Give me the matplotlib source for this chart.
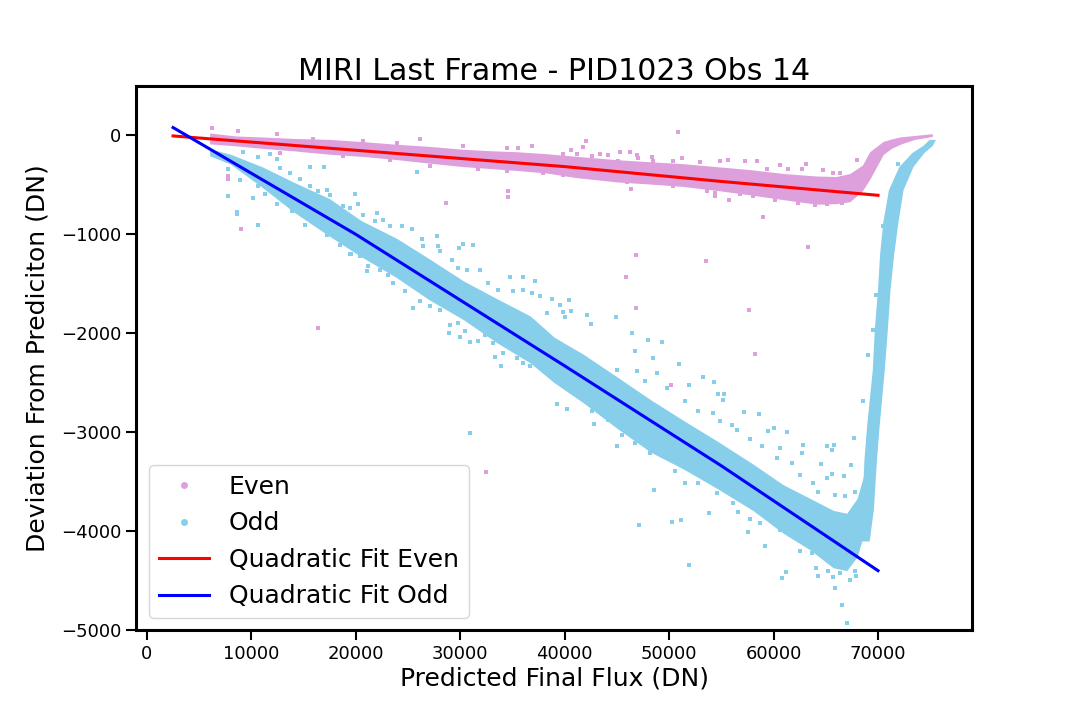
import numpy as np
import matplotlib
matplotlib.use("Agg")
import matplotlib.pyplot as plt

PLUM = '#dda0dd'
SKY = '#87ceeb'

# dense part of the even pixels
even_band_x = [6000, 8500, 11000, 14000, 17500, 21000, 24000, 27000, 30300, 33000, 35500, 38300,
               41000, 45000, 48000, 51300, 54500, 57700, 61000, 64100, 66000, 67300, 68500, 69200,
               70000, 70500, 71300, 72100, 73500, 75200]
even_band_hi = [25, -5, -15, -30, -40, -65, -90, -110, -140, -155, -165, -185,
                -210, -245, -265, -285, -315, -345, -385, -410, -415, -385, -300, -165,
                -100, -60, -35, -15, 0, 18]
even_band_lo = [-85, -105, -130, -155, -190, -215, -245, -280, -315, -335, -355, -380,
                -425, -470, -490, -515, -555, -600, -650, -695, -690, -670, -560, -445,
                -290, -192, -130, -90, -40, -10]

# dense part of the odd pixels along the slope
odd_band_x = [6000, 8000, 11100, 14000, 17500, 20500, 23900, 27000, 30300, 33500, 36700, 39000,
              41750, 45000, 48200, 51500, 54600, 58000, 60900, 63500, 65700, 67000, 68000, 69000]
odd_band_hi = [-135, -190, -320, -470, -640, -860, -1040, -1245, -1470, -1650, -1825, -2040,
               -2210, -2440, -2670, -2890, -3090, -3320, -3530, -3670, -3790, -3820, -3670, -3300]
odd_band_lo = [-205, -290, -530, -770, -1020, -1225, -1437, -1660, -1862, -2095, -2300, -2500,
               -2700, -2960, -3200, -3380, -3570, -3790, -4020, -4190, -4370, -4400, -4260, -3900]

# rising odd branch, sampled by deviation
rise_y = [-4100, -3785, -3279, -2945, -2368, -1950, -1559, -1200, -880, -547, -313, -172, -100, -40]
rise_lo = [68300, 68450, 68650, 68900, 69450, 69650, 69950, 70150, 70450, 71000, 72000, 73250, 74300, 74900]
rise_hi = [69150, 69550, 69850, 70100, 70600, 70900, 71150, 71500, 71900, 72400, 73350, 74400, 75200, 75500]

# single even pixels
even_x = [6250, 8730, 26150, 7730, 7730, 13700, 9000, 34580, 34580, 28630, 16400, 36870, 35550,
          50850, 42040, 41780, 40600, 45300, 46250, 46900, 48350, 57260, 54870, 60600, 63100,
          64730, 46350, 54390, 54390, 55730, 60140, 59000, 63300, 46830, 53530, 45870, 46830,
          57650, 58220, 32460, 50180,
          39867, 41144, 42580, 43378, 44176, 45134, 47049, 48485, 50400, 51198, 52954, 55667,
          58380, 59338, 61413, 62690, 65722, 66361, 67957,
          39867, 41622, 45932, 50400, 53592, 56784, 58061, 62371, 63967, 65084, 66520,
          12417, 15928, 20716, 23906, 30292, 34441,
          12736, 18801, 23270, 27100, 31728, 34441, 37953]
even_y = [78, 48, -32, -410, -440, -378, -945, -560, -620, -683, -1945, -108, -125,
          30, -52, -112, -152, -172, -172, -200, -220, -255, -255, -303, -293,
          -354, -537, -577, -617, -648, -648, -820, -1123, -1204, -1265, -1427, -1741,
          -1761, -2206, -3400, -2520,
          -192, -192, -209, -192, -199, -260, -226, -260, -260, -226, -267, -253,
          -260, -344, -337, -344, -378, -378, -250,
          -395, -412, -472, -513, -563, -587, -614, -682, -705, -692, -682,
          10, -34, -57, -81, -108, -125,
          -176, -209, -250, -310, -344, -361, -378]

# single odd pixels
odd_x = [15600, 16950, 10630, 11780, 12450, 9190, 7760, 10150, 8620, 8620, 10630, 25850, 19920,
         17240, 22020, 31220, 30260, 29880, 27770, 34760, 36000, 37150, 25470, 21070, 19440,
         15130, 28920, 29970, 30930, 33320, 33900, 35430, 38780, 40410, 39550, 39840, 40030,
         40600, 42130, 44910, 42520, 46440, 47980, 49320, 50940, 48450, 46730, 53240, 54300,
         51900, 55250, 54680, 55160, 57170, 58600, 61280, 60040, 59470, 62820, 65120, 65790,
         65600, 67700, 68560, 64540, 67410, 65600, 66740, 48550, 47110, 50270, 51140, 53820,
         51900, 57550, 59180, 60810, 61190, 65880, 66550, 67030, 45010, 42800, 39260, 40220,
         64250, 67320, 67890, 65700, 30930, 71910, 69800, 69040, 69520, 70480]
odd_y = [-314, -314, -213, -192, -243, -172, -617, -628, -769, -790, -901, -374, -587,
         -547, -789, -1103, -1093, -1134, -1012, -1427, -1427, -1468, -1741, -1366, -1194,
         -901, -1994, -2034, -2085, -2237, -2328, -2247, -1650, -1660, -1710, -1781, -1832,
         -1771, -1812, -1832, -1903, -1994, -2065, -2085, -2308, -2247, -2176, -2439, -2490,
         -2520, -2611, -2611, -2672, -2794, -2814, -2996, -2955, -2986, -3127, -3138, -3127,
         -3178, -3057, -2682, -3320, -3330, -3421, -3441, -3583, -3937, -3907, -3887, -3816,
         -4342, -4008, -4150, -4474, -4413, -4575, -4747, -4929, -3138, -2915, -2712, -2763,
         -4453, -4494, -4453, -4463, -3006, -293, -1609, -2216, -1964, -911]

# loose odd pixels just outside the dense part, upper then lower edge
odd_edge_x = [12736, 13694, 14651, 15609, 16407, 17524, 18800, 19439, 20237, 20716, 21833, 22631,
              23270, 24387, 25345, 26303, 26462, 27899, 28058, 29175, 29813, 30611, 31888, 32686,
              33644, 35080, 36038, 36836, 37634, 38272,
              7788, 8906, 10661, 11300, 12417, 13853, 17205, 18482, 19503, 20397, 21195, 22312,
              23110, 23589, 24706, 26142, 27100, 28058, 29015, 29813, 30452, 31728, 32367, 33165,
              34122, 35080, 36038, 36676,
              44974, 46889, 47687, 48804, 49762, 51518, 52794, 54231, 54869, 55986, 56465, 57742,
              58859, 60615, 60296, 61732, 62690, 62530, 63807, 65084, 65888, 66839, 67797, 64286,
              42580, 44176, 45453, 46729, 48166, 49602, 50560, 51518, 52794, 54550, 56146, 56625,
              57742, 58700, 60615, 61572, 62530, 63647, 64062, 65244, 66361, 67797]
odd_edge_y = [-327, -378, -439, -513, -563, -607, -715, -732, -698, -800, -867, -850,
              -918, -911, -945, -1046, -1120, -1120, -1171, -1255, -1340, -1356, -1356, -1491,
              -1559, -1576, -1559, -1593, -1626, -1795,
              -344, -452, -513, -587, -698, -766, -1002, -1103, -1198, -1221, -1323, -1356,
              -1407, -1491, -1576, -1677, -1727, -1761, -1913, -1896, -1981, -2082, -2014, -2099,
              -2200, -2132, -2301, -2335,
              -2368, -2385, -2486, -2402, -2554, -2689, -2790, -2807, -2891, -2925, -2982, -3070,
              -3137, -3161, -3262, -3313, -3212, -3431, -3515, -3465, -3633, -3650, -3600, -3600,
              -2790, -2874, -3026, -3111, -3212, -3245, -3397, -3515, -3515, -3617, -3718, -3802,
              -3880, -3920, -3988, -4038, -4197, -4224, -4376, -4403, -4426, -4399]

# fit lines, end values
fit_x = [2500, 20000, 40000, 55000, 70000]
fit_even = [-5, -150, -315, -465, -605]
fit_odd = [80, -1000, -2330, -3340, -4400]

fig = plt.figure(figsize=(10.8, 7.2), dpi=100)
ax = fig.add_axes([136/1080, 1-630/720, (972-136)/1080, (630-86)/720])

ax.fill_between(even_band_x, even_band_hi, even_band_lo, color=PLUM, lw=0)
ax.fill_between(odd_band_x, odd_band_hi, odd_band_lo, color=SKY, lw=0)
ax.fill_betweenx(rise_y, rise_lo, rise_hi, color=SKY, lw=0)
ax.plot(even_x, even_y, ls='', marker='s', ms=2.6, mew=0, color=PLUM)
ax.plot(odd_x, odd_y, ls='', marker='s', ms=2.6, mew=0, color=SKY)
ax.plot(odd_edge_x, odd_edge_y, ls='', marker='s', ms=2.6, mew=0, color=SKY)
# legend entries are round dots in the original
ax.plot([], [], ls='', marker='o', ms=5, mew=0, color=PLUM, label='Even')
ax.plot([], [], ls='', marker='o', ms=5, mew=0, color=SKY, label='Odd')
ax.plot(fit_x, fit_even, color='red', lw=2.2, label='Quadratic Fit Even')
ax.plot(fit_x, fit_odd, color='blue', lw=2.2, label='Quadratic Fit Odd')

ax.set_xlim(-1050, 79000)
ax.set_ylim(-5000, 500)
ax.set_title('MIRI Last Frame - PID1023 Obs 14', fontsize=21.6, pad=4)
ax.set_xlabel('Predicted Final Flux (DN)', fontsize=18, labelpad=3)
ax.set_ylabel('Deviation From Prediciton (DN)', fontsize=18, labelpad=8)
ax.tick_params(width=1.5, length=7, labelsize=13)
for s in ax.spines.values():
    s.set_linewidth(2.2)
ax.legend(loc='lower left', fontsize=18, bbox_to_anchor=(0.0155, 0.0215), borderaxespad=0)
fig.savefig('out.png', dpi=100)
